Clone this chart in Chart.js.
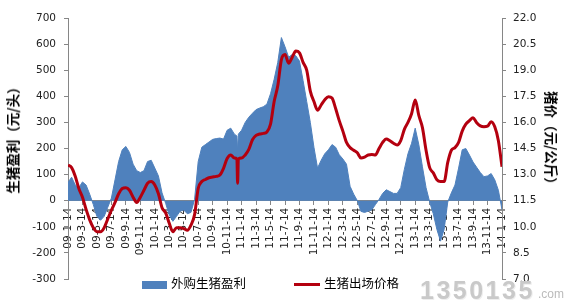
<!DOCTYPE html>
<html>
<head>
<meta charset="utf-8">
<script src="https://cdn.jsdelivr.net/npm/chart.js@4.4.1/dist/chart.umd.min.js"></script>
<style>
    html, body { margin: 0; padding: 0; background: #fff; }
    #wrap { position: relative; width: 567px; height: 302px; overflow: hidden; font-family: "Noto Sans CJK SC", "DejaVu Sans", sans-serif; }
    #chart { position: absolute; left: 0; top: 0; }
    .ytitle { position: absolute; font-size: 13.5px; font-weight: bold; color: #000; white-space: nowrap; }
    #titleLeft { left: 12px; top: 137px; transform: translate(-50%, -50%) rotate(-90deg); }
    #titleRight { left: 552px; top: 141px; transform: translate(-50%, -50%) rotate(90deg); }
    .legend { position: absolute; top: 274px; font-size: 12.5px; color: #000; white-space: nowrap; line-height: 18px; }
    .legend i { display: inline-block; vertical-align: middle; margin-right: 4px; }
    #legArea { left: 142px; }
    #legArea i { width: 25px; height: 8px; background: #4f81bd; }
    #legLine { left: 294px; }
    #legLine i { width: 26px; height: 3px; background: #b4000f; }
    #mark { position: absolute; left: 420px; top: 276px; font-family: "Liberation Sans", sans-serif; font-weight: bold; font-size: 25px; letter-spacing: 2.5px; color: #c9c9c9; text-shadow: 1px 1px 0 #eee; }
    #markCom { position: absolute; left: 538px; top: 287px; font-family: "Liberation Sans", sans-serif; font-size: 12px; color: #bbb; }
</style>
</head>
<body>
<div id="wrap">
    <canvas id="chart" width="567" height="302"></canvas>
    <div class="ytitle" id="titleLeft">生猪盈利（元/头）</div>
    <div class="ytitle" id="titleRight">猪价（元/公斤）</div>
    <div class="legend" id="legArea"><i></i>外购生猪盈利</div>
    <div class="legend" id="legLine"><i></i>生猪出场价格</div>
    <div id="mark">1350135</div>
    <div id="markCom">.com</div>
</div>
<script>
// months since 09-1-14 (x position of every reading)
const months = [
    0, 0.5, 1, 1.5, 2, 2.5, 3, 3.5, 4, 4.5, 5, 5.5, 6, 6.5, 7, 7.5, 8, 8.5, 9, 9.5,
    10, 10.5, 11, 11.5, 12, 12.5, 13, 13.5, 14, 14.5, 15, 15.5, 16, 16.5, 17, 17.5, 18, 18.5, 19, 19.5,
    20, 20.5, 21, 21.5, 22, 22.5, 23, 23.35, 23.45, 23.55, 24, 24.5, 25, 25.5, 26, 26.5, 27, 27.5, 28, 28.5, 29, 29.5,
    30, 30.5, 31, 31.5, 32, 32.5, 33, 33.5, 34, 34.5, 35, 35.5, 36, 36.5, 37, 37.5, 38, 38.5, 39, 39.5,
    40, 40.5, 41, 41.5, 42, 42.5, 43, 43.5, 44, 44.5, 45, 45.5, 46, 46.5, 47, 47.5, 48, 48.5, 49, 49.5,
    50, 50.5, 51, 51.5, 52, 52.5, 53, 53.5, 54, 54.5, 55, 55.5, 56, 56.5, 57, 57.5, 58, 58.5, 59, 59.5, 60
];

// 外购生猪盈利 (元/头)
const profit = [
    70, 90, 60, 50, 72, 60, 25, -15, -60, -75, -60, -25, 10, 80, 150, 195, 208, 185, 140, 115,
    108, 115, 150, 155, 125, 95, 30, -10, -55, -79, -60, -40, -36, -50, -45, 5, 150, 205, 215, 225,
    235, 238, 240, 236, 270, 278, 255, 248, 190, 255, 270, 300, 320, 335, 349, 355, 360, 370, 410, 465, 530, 625,
    590, 550, 560, 555, 535, 460, 380, 300, 205, 125, 155, 180, 195, 215, 205, 176, 160, 140, 55, 25,
    0, -41, -45, -40, -35, -15, 5, 28, 42, 35, 28, 28, 50, 120, 180, 220, 278, 215, 130, 50,
    -5, -50, -110, -155, -110, -5, 30, 60, 125, 195, 200, 175, 148, 128, 108, 92, 95, 104, 80, 40, -35
];

// 生猪出场价格 (元/公斤)
const price = [
    13.55, 13.4, 12.9, 12.2, 11.7, 11.0, 10.4, 9.95, 9.72, 9.72, 9.95, 10.45, 10.95, 11.4, 11.9, 12.2, 12.25, 12.1, 11.7, 11.4,
    11.7, 12.1, 12.5, 12.6, 12.4, 11.9, 11.1, 10.8, 10.2, 9.72, 9.95, 9.95, 9.9, 9.8, 10.1, 10.7, 12.2, 12.6, 12.72, 12.82,
    12.86, 12.9, 12.98, 13.36, 13.93, 14.13, 13.95, 13.9, 12.5, 13.9, 13.95, 14.13, 14.45, 15.0, 15.25, 15.33, 15.37, 15.45, 15.9, 17.2, 18.1, 19.6,
    19.9, 19.4, 19.75, 20.1, 20.0, 19.45, 19.0, 17.8, 17.2, 16.7, 17.0, 17.3, 17.48, 17.4, 16.8, 16.1, 15.5, 14.85, 14.55, 14.4,
    14.25, 13.95, 14.0, 14.13, 14.15, 14.13, 14.5, 14.85, 15.05, 14.95, 14.8, 14.7, 14.95, 15.6, 16.0, 16.5, 17.29, 16.4, 15.7, 14.4,
    13.4, 13.1, 12.7, 12.6, 12.6, 13.7, 14.4, 14.55, 14.85, 15.5, 15.9, 16.1, 16.27, 15.98, 15.8, 15.75, 15.78, 16.04, 15.75, 14.95, 13.45
];

// x tick labels, one every two months
const tickLabels = [
    '09-1-14', '09-3-14', '09-5-14', '09-7-14', '09-9-14', '09-11-14',
    '10-1-14', '10-3-14', '10-5-14', '10-7-14', '10-9-14', '10-11-14',
    '11-1-14', '11-3-14', '11-5-14', '11-7-14', '11-9-14', '11-11-14',
    '12-1-14', '12-3-14', '12-5-14', '12-7-14', '12-9-14', '12-11-14',
    '13-1-14', '13-3-14', '13-5-14', '13-7-14', '13-9-14', '13-11-14',
    '14-1-14'
];

const axisColor = '#868686';
const tickFont = { family: 'DejaVu Sans', size: 10.5 };

const toPoints = (ys) => months.map((m, i) => ({ x: m, y: ys[i] }));

new Chart(document.getElementById('chart').getContext('2d'), {
    type: 'line',
    data: {
        datasets: [{
            label: '外购生猪盈利',
            data: toPoints(profit),
            yAxisID: 'y',
            fill: 'origin',
            backgroundColor: '#4f81bd',
            borderColor: '#4f81bd',
            borderWidth: 1,
            pointRadius: 0,
            tension: 0,
            order: 2
        }, {
            label: '生猪出场价格',
            data: toPoints(price),
            yAxisID: 'y1',
            fill: false,
            borderColor: '#b4000f',
            borderWidth: 3,
            pointRadius: 0,
            cubicInterpolationMode: 'monotone',
            order: 1
        }]
    },
    options: {
        responsive: false,
        animation: false,
        layout: { padding: { top: 18, bottom: 23, left: 0, right: 0 } },
        plugins: { legend: { display: false }, tooltip: { enabled: false } },
        scales: {
            x: {
                type: 'linear',
                position: { y: 0 },
                min: 0,
                max: 60,
                grid: { drawOnChartArea: false, drawTicks: true, tickLength: 4, color: axisColor },
                border: { display: true, color: axisColor },
                ticks: {
                    stepSize: 2,
                    autoSkip: false,
                    maxRotation: 90,
                    minRotation: 90,
                    padding: 3,
                    color: '#222',
                    font: tickFont,
                    callback: (v) => tickLabels[Math.round(v / 2)]
                }
            },
            y: {
                position: 'left',
                min: -300,
                max: 700,
                afterFit: (s) => { s.width = 68; },
                grid: { drawOnChartArea: false, tickLength: 4, color: axisColor },
                border: { color: axisColor },
                ticks: { stepSize: 100, padding: 8, color: '#222', font: tickFont }
            },
            y1: {
                position: 'right',
                min: 7,
                max: 22,
                afterFit: (s) => { s.width = 65; },
                grid: { drawOnChartArea: false, tickLength: 4, color: axisColor },
                border: { color: axisColor },
                ticks: {
                    stepSize: 1.5,
                    padding: 7,
                    color: '#222',
                    font: tickFont,
                    callback: (v) => v.toFixed(1)
                }
            }
        }
    }
});
</script>
</body>
</html>
